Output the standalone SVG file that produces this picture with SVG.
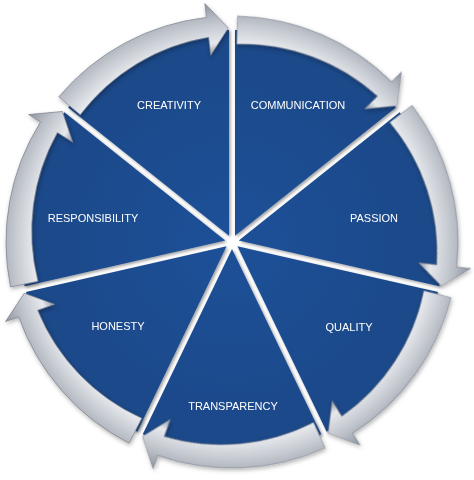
<svg xmlns="http://www.w3.org/2000/svg" width="474" height="480" viewBox="0 0 474 480">
  <defs>
    <radialGradient id="bandGrad" gradientUnits="userSpaceOnUse" cx="0" cy="0" r="240">
      <stop offset="0.78" stop-color="#8c929d"/>
      <stop offset="0.83" stop-color="#e6e8ec"/>
      <stop offset="0.88" stop-color="#d0d4da"/>
      <stop offset="0.93" stop-color="#b9bec6"/>
      <stop offset="0.97" stop-color="#a0a6b0"/>
      <stop offset="1" stop-color="#8a909a"/>
    </radialGradient>
    <radialGradient id="wedgeGrad" gradientUnits="userSpaceOnUse" cx="0" cy="0" r="212">
      <stop offset="0" stop-color="#1f5198"/>
      <stop offset="1" stop-color="#1a4888"/>
    </radialGradient>
    <filter id="shadow" x="-10%" y="-10%" width="120%" height="120%">
      <feDropShadow dx="1.5" dy="1.5" stdDeviation="1.5" flood-color="#000" flood-opacity="0.4"/>
    </filter>
    <filter id="bandShadow" x="-10%" y="-10%" width="120%" height="120%">
      <feDropShadow dx="1" dy="2" stdDeviation="2" flood-color="#000" flood-opacity="0.3"/>
    </filter>
    <path id="wedge" d="M 6.23,-3 L 134.51,-163.86 A 212 212 0 0 1 211.98,-3 Z"/>
    <path id="band" d="M 145.18,-173.20 A 226 226 0 0 1 224.55,-25.58 L 238.46,-27.17 L 213.97,-3.73 L 186.79,-21.28 L 204.68,-23.32 A 202 202 0 0 0 127.19,-151.74 Z"/>
  </defs>
  <style>
    .w { fill: url(#wedgeGrad); }
    .b { fill: url(#bandGrad); stroke: #7f8590; stroke-width: 0.7; stroke-linejoin: round; }
    .lbl { font-family: "Liberation Sans", Arial, sans-serif; font-size: 11px; fill: #ffffff; text-anchor: middle; }
  </style>
  <rect width="474" height="480" fill="#ffffff"/>
  <g transform="translate(232,242)">
    <g id="wedges" filter="url(#shadow)">
      <use href="#wedge" class="w" transform="rotate(-90)"/>
      <use href="#wedge" class="w" transform="rotate(-38.57)"/>
      <use href="#wedge" class="w" transform="rotate(12.86)"/>
      <use href="#wedge" class="w" transform="rotate(64.29)"/>
      <use href="#wedge" class="w" transform="rotate(115.71)"/>
      <use href="#wedge" class="w" transform="rotate(167.14)"/>
      <use href="#wedge" class="w" transform="rotate(218.57)"/>
    </g>
    <g id="connectors" filter="url(#bandShadow)">
      <use href="#band" class="b" transform="rotate(-90)"/>
      <use href="#band" class="b" transform="rotate(-38.57)"/>
      <use href="#band" class="b" transform="rotate(12.86)"/>
      <use href="#band" class="b" transform="rotate(64.29)"/>
      <use href="#band" class="b" transform="rotate(115.71)"/>
      <use href="#band" class="b" transform="rotate(167.14)"/>
      <use href="#band" class="b" transform="rotate(218.57)"/>
    </g>
  </g>
  <g id="creativity"><text class="lbl" x="169" y="109">CREATIVITY</text></g>
  <g id="communication"><text class="lbl" x="298" y="109">COMMUNICATION</text></g>
  <g id="passion"><text class="lbl" x="374" y="222">PASSION</text></g>
  <g id="quality"><text class="lbl" x="349" y="331">QUALITY</text></g>
  <g id="transparency"><text class="lbl" x="233" y="410">TRANSPARENCY</text></g>
  <g id="honesty"><text class="lbl" x="118" y="330">HONESTY</text></g>
  <g id="responsibility"><text class="lbl" x="93" y="222">RESPONSIBILITY</text></g>
</svg>
